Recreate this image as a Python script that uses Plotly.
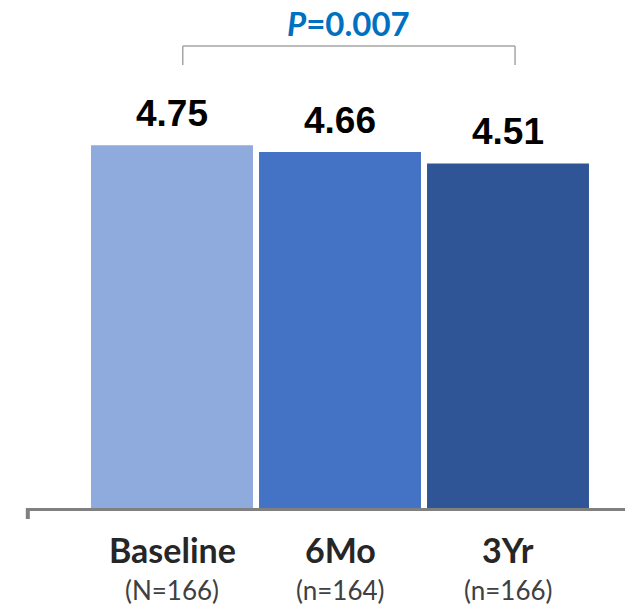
import plotly.graph_objects as go

categories = ["Baseline", "6Mo", "3Yr"]
n_labels = ["(N=166)", "(n=164)", "(n=166)"]
values = [4.75, 4.66, 4.51]
value_labels = ["4.75", "4.66", "4.51"]
colors = ["#8FAADC", "#4472C4", "#2F5597"]
p_text = "<i>P</i>=0.007"

xpos = [0, 1, 2]

fig = go.Figure()
fig.add_trace(go.Bar(x=xpos, y=values, marker=dict(color=colors, line=dict(width=0)),
                     width=0.964, hoverinfo="skip"))

for x, v, t in zip(xpos, values, value_labels):
    fig.add_annotation(x=x, y=v, text=f"<b>{t}</b>", showarrow=False, yanchor="middle",
                       yshift=32, font=dict(family="Liberation Sans, Arial", size=37, color="#000000"))

# category labels and group sizes below the axis
for x, c, n in zip(xpos, categories, n_labels):
    fig.add_annotation(x=x, y=0, yref="paper", text=f"<b>{c}</b>", showarrow=False,
                       yanchor="middle", yshift=-41,
                       font=dict(family="Lato", size=34, color="#262626"))
    fig.add_annotation(x=x, y=0, yref="paper", text=n, showarrow=False,
                       yanchor="middle", yshift=-82,
                       font=dict(family="Lato", size=26, color="#404040"))

# significance bracket
y_top = 6.047
y_bot = 5.80
x0 = xpos[0] + 0.064
x1 = xpos[2] + 0.042
bc = "#A6A6A6"
fig.add_shape(type="line", x0=x0, x1=x1, y0=y_top, y1=y_top, line=dict(color=bc, width=1.5))
fig.add_shape(type="line", x0=x0, x1=x0, y0=y_top, y1=y_bot, line=dict(color=bc, width=1.5))
fig.add_shape(type="line", x0=x1, x1=x1, y0=y_top, y1=y_bot, line=dict(color=bc, width=1.5))
fig.add_annotation(x=(x0 + x1) / 2, y=y_top, text=f"<b>{p_text}</b>", showarrow=False,
                   yanchor="middle", yshift=23,
                   font=dict(family="Lato", size=33, color="#0070C0"))

# left tick of axis
fig.add_shape(type="line", xref="paper", yref="paper", x0=0.003, x1=0.003, y0=0, y1=-0.022,
              line=dict(color="#808080", width=4))

fig.update_layout(
    width=633, height=605,
    margin=dict(l=18, r=8, t=0, b=105),
    plot_bgcolor="white", paper_bgcolor="white",
    showlegend=False,
    xaxis=dict(range=[-0.869, 2.744], tickvals=xpos, showticklabels=False, showline=True,
               linecolor="#808080", linewidth=3, ticks="", showgrid=False, zeroline=False,
               fixedrange=True),
    yaxis=dict(range=[0, 6.545], visible=False, showgrid=False, zeroline=False, fixedrange=True),
)

fig.write_html("out.html")
